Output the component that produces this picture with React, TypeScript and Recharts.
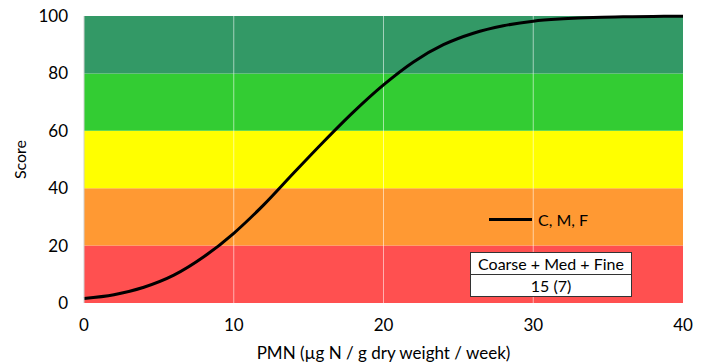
import {
  LineChart,
  Line,
  XAxis,
  YAxis,
  ReferenceArea,
  ReferenceLine,
  Label,
} from 'recharts';

const pmn = [0, 2, 4, 6, 8, 10, 12, 14, 16, 18, 20, 22, 24, 26, 28, 30, 32, 34, 36, 38, 40];
const score = [1.6, 2.9, 5.5, 9.7, 16.1, 24.3, 34.2, 45.3, 56.2, 66.6, 76.0, 84.0, 90.0, 94.0, 96.6, 98.2, 99.0, 99.5, 99.7, 99.85, 99.9];

const bandEdges = [0, 20, 40, 60, 80, 100];
const bandColors = ['#ff5050', '#ff9933', '#ffff00', '#33cc33', '#339966'];

const xTicks = [0, 10, 20, 30, 40];
const yTicks = [0, 20, 40, 60, 80, 100];
const gridX = [10, 20, 30];

const seriesName = 'C, M, F';
const tableHeader = 'Coarse + Med + Fine';
const tableValue = '15 (7)';

const FONT = 'Lato, "Open Sans", sans-serif';

export default function App() {
  const data = pmn.map((x, i) => ({ x, y: score[i] }));

  return (
    <div style={{ position: 'absolute', left: 0, top: 0, width: 703, height: 362, background: '#fff', fontFamily: FONT }}>
      <LineChart
        width={703}
        height={362}
        data={data}
        margin={{ top: 16, right: 20, bottom: 29, left: 0 }}
      >
        {bandColors.map((c, i) => (
          <ReferenceArea
            key={c}
            y1={bandEdges[i]}
            y2={bandEdges[i + 1]}
            fill={c}
            fillOpacity={1}
            stroke="none"
            ifOverflow="visible"
          />
        ))}
        {gridX.map((g) => (
          <ReferenceLine key={g} x={g} stroke="#ffffff" strokeOpacity={0.55} strokeWidth={1} />
        ))}
        <XAxis
          dataKey="x"
          type="number"
          domain={[0, 40]}
          ticks={xTicks}
          axisLine={false}
          tickLine={false}
          tickMargin={10}
          height={30}
          tick={{ fill: '#000', fontSize: 17, fontFamily: FONT }}
        >
          <Label
            value="PMN (µg N / g dry weight / week)"
            position="bottom"
            offset={14}
            style={{ fill: '#000', fontSize: 17, fontFamily: FONT }}
          />
        </XAxis>
        <YAxis
          type="number"
          domain={[0, 100]}
          ticks={yTicks}
          width={84}
          axisLine={{ stroke: '#d0d0d0' }}
          tickLine={false}
          tickSize={0}
          tickMargin={16}
          tick={{ fill: '#000', fontSize: 17, fontFamily: FONT }}
        >
          <Label
            value="Score"
            angle={-90}
            position="insideLeft"
            offset={20}
            style={{ fill: '#000', fontSize: 16, fontFamily: FONT, textAnchor: 'middle' }}
          />
        </YAxis>
        <Line
          type="monotone"
          dataKey="y"
          name={seriesName}
          stroke="#000"
          strokeWidth={3}
          dot={false}
          isAnimationActive={false}
        />
      </LineChart>

      <div style={{ position: 'absolute', left: 489, top: 210, display: 'flex', alignItems: 'center', fontSize: 16 }}>
        <div style={{ width: 43, height: 3, background: '#000', marginRight: 6 }} />
        <span>{seriesName}</span>
      </div>

      <div
        style={{
          position: 'absolute',
          left: 470,
          top: 252,
          width: 160,
          border: '1.5px solid #333',
          background: '#fff',
          fontSize: 16,
          textAlign: 'center',
          lineHeight: '21px',
        }}
      >
        <div style={{ borderBottom: '1.5px solid #333' }}>{tableHeader}</div>
        <div>{tableValue}</div>
      </div>
    </div>
  );
}
